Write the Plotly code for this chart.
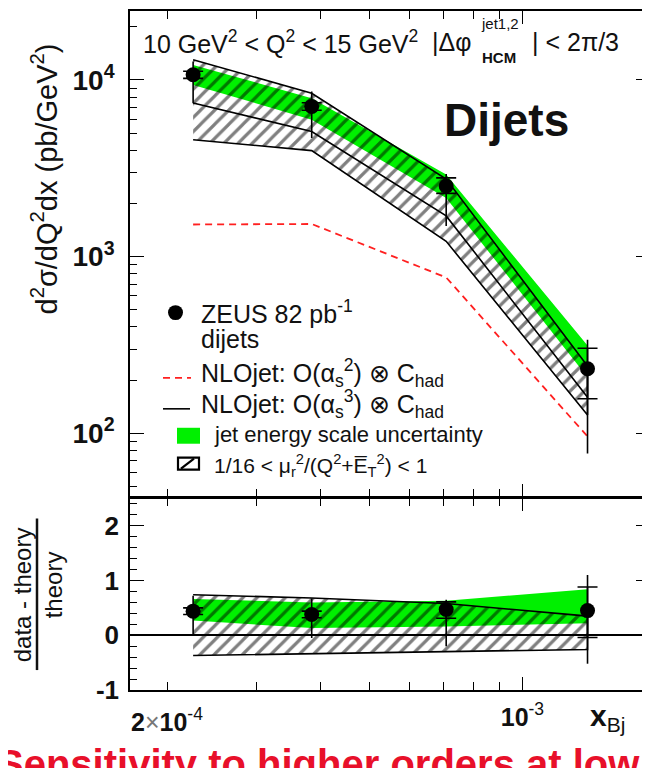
import numpy as np
import plotly.graph_objects as go

# ---------------- data ----------------
x_bj = [2.25e-4, 3.85e-4, 7.08e-4, 1.343e-3]

zeus = [1.07e4, 7.08e3, 2.51e3, 232]
zeus_stat_hi = [1.12e4, 7.43e3, 2.79e3, 303]
zeus_stat_lo = [1.02e4, 6.73e3, 2.28e3, 157]
zeus_tot_hi = [1.27e4, 8.59e3, 2.93e3, 339]
zeus_tot_lo = [7.38e3, 4.69e3, 1.49e3, 77]

nlo3 = [7.4e3, 5.1e3, 1.7e3, 160]
nlo3_hi = [1.30e4, 8.41e3, 2.75e3, 240]
nlo3_lo = [4.59e3, 3.98e3, 1.22e3, 127]
nlo2 = [1.52e3, 1.53e3, 762, 96]
jes_hi = [1.215e4, 7.88e3, 2.92e3, 314]
jes_lo = [9.37e3, 5.96e3, 2.15e3, 208]

ratio = [0.44, 0.38, 0.47, 0.45]
ratio_stat_hi = [0.50, 0.44, 0.61, 0.88]
ratio_stat_lo = [0.38, 0.32, 0.31, -0.04]
ratio_tot_hi = [0.72, 0.67, 0.65, 1.10]
ratio_tot_lo = [0.0, -0.05, -0.20, -0.52]
scale_r_hi = [0.74, 0.68, 0.58, 0.35]
scale_r_lo = [-0.37, -0.35, -0.30, -0.26]
jes_r_hi = [0.66, 0.60, 0.63, 0.84]
jes_r_lo = [0.27, 0.13, 0.16, 0.22]

y_top_ticks = [1e2, 1e3, 1e4]
y_top_ticktext = ["10<sup>2</sup>", "10<sup>3</sup>", "10<sup>4</sup>"]
y_bot_ticks = [-1, 0, 1, 2]
x_minor = [2e-4, 3e-4, 4e-4, 5e-4, 6e-4, 7e-4, 8e-4, 9e-4]
x_major = [1e-3]

# ---------------- geometry helpers ----------------
# the page body adds an 8px offset, margins compensate for it
WID, HEI = 650, 768
OFF = 8
L, R, T, B = 130 - OFF, OFF, 9 - OFF, 78 + OFF
PW = WID - L - R
PH = HEI - T - B
BOUND = 497  # pixel row between panels (screen)
split = (690 - BOUND) / PH
LW = 1.6
gap = (LW / 2) / PH


def PX(x):
    return (x - 130) / PW


def PY(y):
    return (690 - y) / PH


FONT = "Liberation Sans, Arial, sans-serif"
GREEN = "#00f000"
BLACK = "black"

fig = go.Figure()


def add_band(xs, hi, lo, xa, ya, green=False):
    xx = list(xs) + list(xs)[::-1]
    yy = list(hi) + list(lo)[::-1]
    if green:
        fig.add_trace(go.Scatter(x=xx, y=yy, xaxis=xa, yaxis=ya, fill="toself",
                                 fillcolor=GREEN, line=dict(width=0), mode="lines",
                                 hoverinfo="skip"))
    else:
        fig.add_trace(go.Scatter(x=xx, y=yy, xaxis=xa, yaxis=ya, fill="toself",
                                 fillcolor="rgba(0,0,0,0)",
                                 fillpattern=dict(shape="/", fgcolor=BLACK,
                                                  bgcolor="rgba(0,0,0,0)",
                                                  size=10, solidity=0.32),
                                 line=dict(color=BLACK, width=LW), mode="lines",
                                 hoverinfo="skip"))


def add_points(xs, v, shi, slo, thi, tlo, xa, ya):
    fig.add_trace(go.Scatter(
        x=xs, y=v, xaxis=xa, yaxis=ya, mode="markers",
        marker=dict(size=1, color=BLACK),
        error_y=dict(type="data", symmetric=False,
                     array=[h - c for h, c in zip(thi, v)],
                     arrayminus=[c - l for c, l in zip(v, tlo)],
                     width=0, thickness=LW, color=BLACK)))
    fig.add_trace(go.Scatter(
        x=xs, y=v, xaxis=xa, yaxis=ya, mode="markers",
        marker=dict(size=15, color=BLACK),
        error_y=dict(type="data", symmetric=False,
                     array=[h - c for h, c in zip(shi, v)],
                     arrayminus=[c - l for c, l in zip(v, slo)],
                     width=10, thickness=LW, color=BLACK)))


# top panel
add_band(x_bj, jes_hi, jes_lo, "x", "y", green=True)
add_band(x_bj, nlo3_hi, nlo3_lo, "x", "y")
fig.add_trace(go.Scatter(x=x_bj, y=nlo3, xaxis="x", yaxis="y", mode="lines",
                         line=dict(color=BLACK, width=LW)))
fig.add_trace(go.Scatter(x=x_bj, y=nlo2, xaxis="x", yaxis="y", mode="lines",
                         line=dict(color="#ff2020", width=1.8, dash="7px,5px")))
add_points(x_bj, zeus, zeus_stat_hi, zeus_stat_lo, zeus_tot_hi, zeus_tot_lo, "x", "y")

# bottom panel
add_band(x_bj, jes_r_hi, jes_r_lo, "x2", "y2", green=True)
add_band(x_bj, scale_r_hi, scale_r_lo, "x2", "y2")
add_points(x_bj, ratio, ratio_stat_hi, ratio_stat_lo, ratio_tot_hi, ratio_tot_lo, "x2", "y2")

xrange_log = [-3.772, -2.749]
common_x = dict(type="log", range=xrange_log, showline=True, linecolor=BLACK,
                linewidth=LW, mirror="allticks", ticks="inside", ticklen=13,
                tickwidth=1.3, tickcolor=BLACK, tickmode="array", tickvals=x_major,
                showgrid=False, zeroline=False,
                minor=dict(tickmode="array", tickvals=x_minor, ticks="inside",
                           ticklen=8, tickwidth=1.3, tickcolor=BLACK, showgrid=False))

fig.update_layout(
    width=WID, height=HEI, margin=dict(l=L, r=R, t=T, b=B),
    paper_bgcolor="white", plot_bgcolor="white", showlegend=False,
    font=dict(family=FONT, color="#111111"),
    xaxis=dict(**common_x, domain=[0, 1], anchor="y", matches="x2",
               showticklabels=False),
    xaxis2=dict(**common_x, domain=[0, 1], anchor="y2", showticklabels=True,
                ticktext=["<b>10</b><sup>-3</sup>"],
                tickfont=dict(size=25, family=FONT, color="#111111"),
                ticklabelstandoff=4),
    yaxis=dict(type="log", range=[1.641, 4.390], domain=[split + gap, 1], anchor="x",
               showline=True, linecolor=BLACK, linewidth=LW, mirror="allticks",
               ticks="inside", ticklen=14, tickwidth=1.3, tickcolor=BLACK,
               tickmode="array", tickvals=y_top_ticks, ticktext=y_top_ticktext,
               tickfont=dict(size=28, family=FONT, color="#111111", weight="bold"),
               ticklabelstandoff=8, showgrid=False, zeroline=False,
               minor=dict(tickmode="array",
                          tickvals=[m * d for d in [1e1, 1e2, 1e3, 1e4] for m in range(2, 10)],
                          ticks="inside", ticklen=7, tickwidth=1.3, tickcolor=BLACK,
                          showgrid=False)),
    yaxis2=dict(range=[-1.0, 2.5], domain=[0, split - gap], anchor="x2",
                showline=True, linecolor=BLACK, linewidth=LW, mirror="allticks",
                ticks="inside", ticklen=14, tickwidth=1.3, tickcolor=BLACK,
                tickmode="array", tickvals=y_bot_ticks,
                ticktext=[str(v) for v in y_bot_ticks],
                tickfont=dict(size=26, family=FONT, color="#111111", weight="bold"),
                ticklabelstandoff=4, showgrid=False,
                zeroline=True, zerolinecolor=BLACK, zerolinewidth=LW,
                minor=dict(dtick=0.2, ticks="inside", ticklen=7, tickwidth=1.3,
                           tickcolor=BLACK, showgrid=False)),
)

ann = []


def A(text, x, y, size, xanchor="left", yanchor="middle", color="#111111",
      angle=0, weight="normal", xref="paper", yref="paper"):
    ann.append(dict(text=text, x=x, y=y, xref=xref, yref=yref, showarrow=False,
                    xanchor=xanchor, yanchor=yanchor, textangle=angle,
                    font=dict(size=size, family=FONT, color=color, weight=weight)))


# x tick label 2x10^-4
A("<b>2</b><span style='color:#777'>×</span><b>10</b><sup>-4</sup>",
  np.log10(2e-4), PY(720), 25, xanchor="center", xref="x2")
# x axis title
A("<b>x</b><sub>Bj</sub>", PX(588), PY(718), 30)
# y titles
A("d<sup>2</sup>σ/dQ<sup>2</sup>dx (pb/GeV<sup>2</sup>)", PX(44), PY(178), 29,
  xanchor="center", angle=-90)
A("data - theory", PX(22), PY(595), 24, xanchor="center", angle=-90)
A("theory", PX(53), PY(585), 24, xanchor="center", angle=-90)

# header
A("10 GeV<sup>2</sup> &lt; Q<sup>2</sup> &lt; 15 GeV<sup>2</sup>", PX(141), PY(40), 25)
A("|Δφ", PX(430), PY(40), 25)
A("jet1,2", PX(479), PY(22), 15)
A("<b>HCM</b>", PX(480), PY(56), 15)
A("| &lt; 2π/3", PX(530), PY(40), 25)

# Dijets
A("<b>Dijets</b>", PX(506), PY(118), 46, xanchor="center")

# legend texts
A("ZEUS 82 pb<sup>-1</sup>", PX(199), PY(311), 25)
A("dijets", PX(199), PY(338), 25)
A("NLOjet: O(α<sub>s</sub><sup>2</sup>) ⊗ C<sub>had</sub>", PX(199), PY(372), 25)
A("NLOjet: O(α<sub>s</sub><sup>3</sup>) ⊗ C<sub>had</sub>", PX(199), PY(403), 25)
A("jet energy scale uncertainty", PX(212), PY(434), 22)
A("1/16 &lt; μ<sub>r</sub><sup>2</sup>/(Q<sup>2</sup>+E\u0305<sub>T</sub><sup>2</sup>) &lt; 1",
  PX(212), PY(465), 21)

# red slide text at the bottom (cut by the window edge)
A("<b>Sensitivity to higher orders at low x</b>", PX(-5), PY(764), 40,
  color="#e8102a", yanchor="middle")

shapes = []
# legend swatches
shapes.append(dict(type="circle", xref="paper", yref="paper",
                   x0=PX(168), x1=PX(183), y0=PY(319), y1=PY(304),
                   fillcolor=BLACK, line=dict(width=0)))
shapes.append(dict(type="line", xref="paper", yref="paper",
                   x0=PX(163), x1=PX(191), y0=PY(377), y1=PY(377),
                   line=dict(color="#ff2020", width=1.8, dash="7px,5px")))
shapes.append(dict(type="line", xref="paper", yref="paper",
                   x0=PX(163), x1=PX(190), y0=PY(408), y1=PY(408),
                   line=dict(color=BLACK, width=LW)))
shapes.append(dict(type="rect", xref="paper", yref="paper",
                   x0=PX(177), x1=PX(200), y0=PY(443), y1=PY(427),
                   fillcolor=GREEN, line=dict(width=0)))
shapes.append(dict(type="rect", xref="paper", yref="paper",
                   x0=PX(178), x1=PX(199), y0=PY(469), y1=PY(457),
                   fillcolor="white", line=dict(color=BLACK, width=2.2)))
shapes.append(dict(type="line", xref="paper", yref="paper",
                   x0=PX(181), x1=PX(194), y0=PY(468), y1=PY(458),
                   line=dict(color=BLACK, width=2.2)))
# fraction bar of the ratio title
shapes.append(dict(type="line", xref="paper", yref="paper",
                   x0=PX(37), x1=PX(37), y0=PY(670), y1=PY(518),
                   line=dict(color="#111111", width=2.5)))

fig.update_layout(annotations=ann, shapes=shapes)

fig.write_html("out.html")
